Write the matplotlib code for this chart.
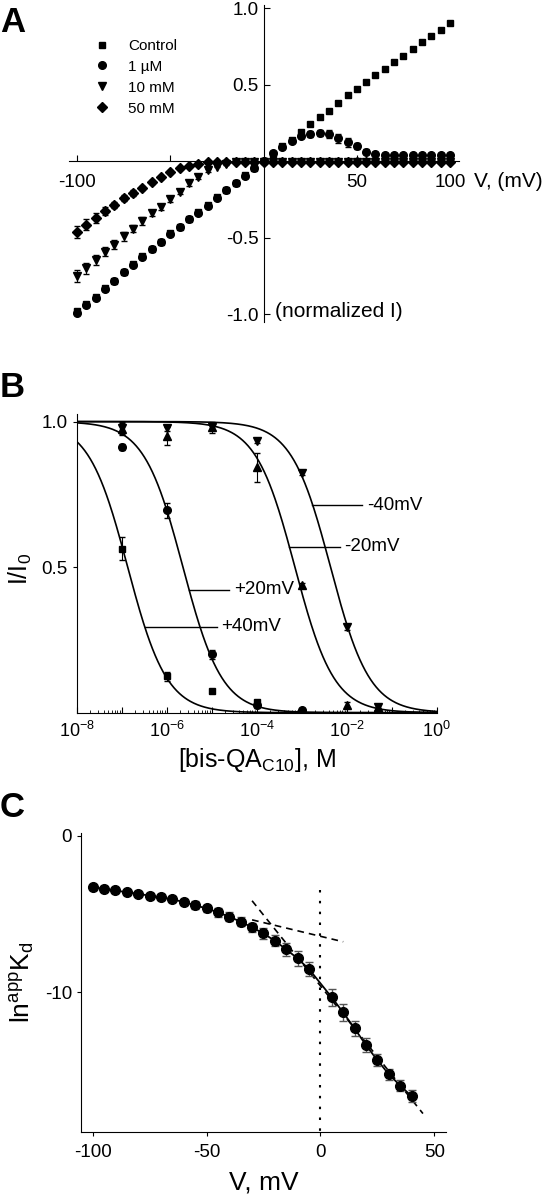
import numpy as np
import matplotlib
matplotlib.use('Agg')
import matplotlib.pyplot as plt
from matplotlib.ticker import LogLocator, FuncFormatter, NullFormatter

plt.rcParams['font.family'] = ['Liberation Sans', 'DejaVu Sans']
plt.rcParams['mathtext.fontset'] = 'custom'
plt.rcParams['mathtext.rm'] = 'Liberation Sans'
plt.rcParams['mathtext.it'] = 'Liberation Sans:italic'
plt.rcParams['axes.unicode_minus'] = False

# ---- panel A: I-V curves ----
volt_a = list(range(-100, 101, 5))
control = [-0.98, -0.93, -0.885, -0.83, -0.78, -0.72, -0.67, -0.62, -0.57, -0.53, -0.47,
           -0.43, -0.38, -0.33, -0.285, -0.235, -0.19, -0.14, -0.09, -0.045, 0.0,
           0.05, 0.10, 0.14, 0.19, 0.24, 0.29, 0.33, 0.38, 0.43, 0.47,
           0.52, 0.56, 0.60, 0.65, 0.69, 0.73, 0.78, 0.82, 0.86, 0.90]
um1 = [-0.99, -0.94, -0.89, -0.835, -0.78, -0.725, -0.675, -0.625, -0.575, -0.53, -0.475,
       -0.43, -0.38, -0.335, -0.29, -0.24, -0.19, -0.14, -0.095, -0.045, 0.0,
       0.052, 0.095, 0.134, 0.166, 0.18, 0.186, 0.18, 0.15, 0.123, 0.097,
       0.063, 0.048, 0.043, 0.043, 0.043, 0.043, 0.043, 0.043, 0.043, 0.043]
mm10 = [-0.75, -0.70, -0.645, -0.59, -0.545, -0.49, -0.44, -0.39, -0.34, -0.30, -0.245,
        -0.20, -0.145, -0.10, -0.06, -0.035, -0.017, -0.007, -0.004, -0.003, -0.002,
        -0.004, -0.004, -0.004, -0.004, -0.004, -0.004, -0.004, -0.004, -0.004, -0.004,
        -0.004, -0.004, -0.004, -0.004, -0.004, -0.004, -0.004, -0.004, -0.004, -0.004]
mm50 = [-0.46, -0.415, -0.37, -0.325, -0.285, -0.24, -0.21, -0.175, -0.135, -0.105, -0.07,
        -0.045, -0.028, -0.017, -0.007, -0.003, -0.002, -0.002, -0.002, -0.002, -0.002,
        -0.003, -0.003, -0.003, -0.003, -0.003, -0.003, -0.003, -0.003, -0.003, -0.003,
        -0.003, -0.003, -0.003, -0.003, -0.003, -0.003, -0.003, -0.003, -0.003, -0.003]
err_control = [0.012] * 41
err_um1 = [0.012] * 21 + [0.01, 0.01, 0.01, 0.015, 0.02, 0.02, 0.025, 0.03, 0.03, 0.02,
                           0.015, 0.01, 0.01, 0.01, 0.01, 0.01, 0.01, 0.01, 0.01, 0.01]
err_mm10 = [0.04, 0.035, 0.035, 0.03, 0.03, 0.03, 0.025, 0.025, 0.02, 0.02, 0.02,
            0.015, 0.015, 0.015, 0.01] + [0.005] * 26
err_mm50 = [0.04, 0.035, 0.03, 0.025, 0.02, 0.02, 0.02, 0.015, 0.015, 0.01] + [0.005] * 31
labels_a = ['Control', '1 \u00b5M', '10 mM', '50 mM']

# ---- panel B: dose-response ----
conc = [1e-7, 1e-6, 1e-5, 1e-4, 1e-3, 1e-2, 5e-2]
p40 = [0.563, 0.125, 0.073, 0.035]
p40_err = [0.04, 0.015, 0.005, 0.01]
p20 = [0.914, 0.695, 0.201, 0.027, 0.01]
p20_err = [0.01, 0.025, 0.015, 0.01, 0.005]
m20 = [0.975, 0.95, 0.98, 0.843, 0.437, 0.025, 0.02]
m20_err = [0.02, 0.03, 0.02, 0.05, 0.01, 0.01, 0.01]
m40 = [0.977, 0.977, 0.983, 0.935, 0.825, 0.293, 0.018]
m40_err = [0.02, 0.01, 0.01, 0.01, 0.01, 0.01, 0.01]
kd_b = {'+40mV': 1.36e-7, '+20mV': 2.3e-6, '-20mV': 7.1e-4, '-40mV': 4.4e-3}

# ---- panel C: ln Kd vs V ----
volt_c = [-100, -95, -90, -85, -80, -75, -70, -65, -60, -55, -50, -45, -40, -35, -30,
          -25, -20, -15, -10, -5, 5, 10, 15, 20, 25, 30, 35, 40]
lnkd = [-3.28, -3.37, -3.48, -3.60, -3.69, -3.82, -3.92, -4.05, -4.22, -4.43, -4.63,
        -4.88, -5.16, -5.48, -5.84, -6.23, -6.70, -7.25, -7.83, -8.51,
        -10.32, -11.28, -12.30, -13.37, -14.33, -15.22, -15.95, -16.63]
lnkd_err = [0.15, 0.15, 0.15, 0.15, 0.15, 0.2, 0.2, 0.2, 0.2, 0.25, 0.25, 0.3, 0.3, 0.3,
            0.3, 0.35, 0.35, 0.4, 0.45, 0.45, 0.55, 0.55, 0.5, 0.45, 0.4, 0.35, 0.35, 0.4]
shallow = (-6.41, -0.035)   # intercept, slope of shallow asymptote
steep = (-9.58, -0.1813)    # intercept, slope of steep asymptote

fig = plt.figure(figsize=(5.52, 11.99), dpi=100)

# ================= A =================
axA = fig.add_axes([0.1243, 0.7314, 0.708, 0.2644])
ekw = dict(color='black', ecolor='black', elinewidth=0.8, capsize=2, linestyle='none')
hs = []
for y, e, m, ms in [(control, err_control, 's', 5),
                    (um1, err_um1, 'o', 5.5),
                    (mm10, err_mm10, 'v', 6),
                    (mm50, err_mm50, 'D', 5)]:
    h = axA.errorbar(volt_a, y, yerr=e, marker=m, markersize=ms, **ekw)
    hs.append(h[0])
axA.set_xlim(-104.5, 105)
axA.set_ylim(-1.05, 1.02)
axA.spines['left'].set_position(('data', 0))
axA.spines['bottom'].set_position(('data', 0))
axA.spines['top'].set_visible(False)
axA.spines['right'].set_visible(False)
axA.set_xticks([-100, -50, 50, 100])
axA.set_xticklabels(['-100', '', '50', '100'])
axA.set_yticks([-1.0, -0.5, 0.5, 1.0])
axA.set_yticklabels(['-1.0', '-0.5', '0.5', '1.0'])
axA.tick_params(direction='in', length=4, labelsize=13.5, width=0.8)
axA.tick_params(axis='x', pad=9)
axA.text(113, -0.135, 'V, (mV)', fontsize=15, va='center', ha='left', clip_on=False)
axA.text(6, -0.984, '(normalized I)', fontsize=15, va='center', ha='left')
axA.legend(hs, labels_a, loc='upper left',
           bbox_to_anchor=(0.066, 0.893), frameon=False, fontsize=11,
           handlelength=1.0, handletextpad=1.2, labelspacing=0.45,
           borderpad=0, borderaxespad=0)
fig.text(0.0, 1 - 32 / 1199, 'A', fontsize=25, fontweight='bold', va='baseline')

# ================= B =================
axB = fig.add_axes([0.139, 0.4056, 0.6518, 0.2491])
axB.set_xscale('log')
xx = np.logspace(-8, 0, 400)
for name, kd in kd_b.items():
    axB.plot(xx, 1 / (1 + xx / kd), color='black', lw=1.2)
bkw = dict(color='black', ecolor='black', elinewidth=0.8, capsize=2.5, linestyle='none')
axB.errorbar(conc[:len(p40)], p40, yerr=p40_err, marker='s', markersize=5, **bkw)
axB.errorbar(conc[:len(p20)], p20, yerr=p20_err, marker='o', markersize=5.5, **bkw)
axB.errorbar(conc, m20, yerr=m20_err, marker='^', markersize=6, **bkw)
axB.errorbar(conc, m40, yerr=m40_err, marker='v', markersize=6, **bkw)

# curve labels with leader lines: (x_start_exp, x_end_exp, y, text)
for x1, x2, y, txt in [(-2.76, -1.65, 0.712, '-40mV'), (-3.27, -2.15, 0.57, '-20mV'),
                       (-5.50, -4.61, 0.422, '+20mV'), (-6.49, -4.89, 0.296, '+40mV')]:
    axB.plot([10 ** x1, 10 ** x2], [y, y], color='black', lw=1.0)
    axB.text(10 ** (x2 + 0.1), y, txt, fontsize=13.5, va='center', ha='left')

axB.set_xlim(1e-8, 1)
axB.set_ylim(0, 1.026)
axB.spines['top'].set_visible(False)
axB.spines['right'].set_visible(False)
axB.xaxis.set_major_locator(LogLocator(base=10, numticks=20))
axB.xaxis.set_minor_locator(LogLocator(base=10, subs=np.arange(2, 10), numticks=20))
axB.xaxis.set_minor_formatter(NullFormatter())
axB.xaxis.set_major_formatter(FuncFormatter(
    lambda v, p: ('10$^{%d}$' % round(np.log10(v))) if round(np.log10(v)) % 2 == 0 else ''))
axB.tick_params(axis='x', which='major', direction='in', length=4, labelsize=13, pad=6)
axB.tick_params(axis='x', which='minor', direction='in', length=2)
axB.set_yticks([0.5, 1.0])
axB.set_yticklabels(['0.5', '1.0'])
axB.tick_params(axis='y', direction='out', length=3, labelsize=13.5)
axB.set_ylabel('I/I$_0$', fontsize=18)
axB.yaxis.set_label_coords(-0.118, 0.48)
axB.set_xlabel('[bis-QA$_{\\rm C10}$], M', fontsize=18)
axB.xaxis.set_label_coords(0.5, -0.11)
fig.text(0.0, 1 - 397 / 1199, 'B', fontsize=25, fontweight='bold', va='baseline')

# ================= C =================
axC = fig.add_axes([0.1467, 0.0561, 0.662, 0.2489])
vs = np.array([-30, 10])
axC.plot(vs, shallow[0] + shallow[1] * vs, color='black', lw=1.2, dashes=(4, 3))
vt = np.array([-30, 45])
axC.plot(vt, steep[0] + steep[1] * vt, color='black', lw=1.2, dashes=(4, 3))
axC.plot([0, 0], [-3.45, -19], color='black', lw=1.5, linestyle=(0, (1.2, 4)))
axC.plot(volt_c, lnkd, color='black', lw=1.3)
axC.errorbar(volt_c, lnkd, yerr=lnkd_err, marker='o', markersize=7, color='black',
             ecolor='#555555', elinewidth=1.0, capsize=3, linestyle='none')
axC.set_xlim(-105.1, 55.3)
axC.set_ylim(-18.9, 0.17)
axC.spines['top'].set_visible(False)
axC.spines['right'].set_visible(False)
axC.set_xticks([-100, -50, 0, 50])
axC.set_xticklabels(['-100', '-50', '0', '50'])
axC.set_yticks([0, -10])
axC.set_yticklabels(['0', '-10'])
axC.tick_params(direction='out', length=3, labelsize=13.5)
axC.tick_params(axis='x', pad=6)
axC.set_ylabel('ln$^{\\rm app}$K$_{\\rm d}$', fontsize=19)
axC.yaxis.set_label_coords(-0.12, 0.5)
axC.set_xlabel('V, mV', fontsize=19)
axC.xaxis.set_label_coords(0.5, -0.13)
fig.text(0.0, 1 - 817 / 1199, 'C', fontsize=25, fontweight='bold', va='baseline')

fig.savefig('out.png', dpi=100)
